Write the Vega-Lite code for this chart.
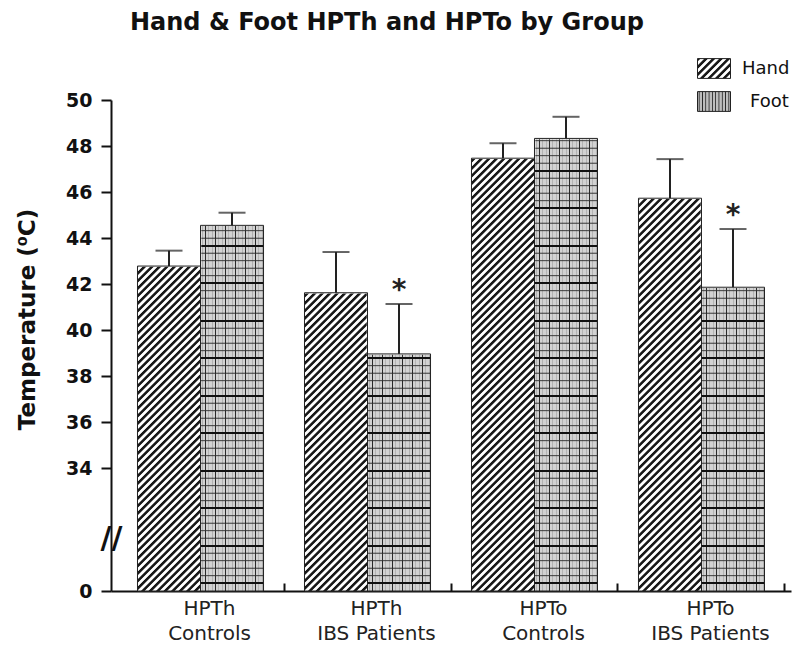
{
"$schema": "https://vega.github.io/schema/vega-lite/v6.json",
"width": 680, "height": 491,
"autosize": {"type": "none"},
"padding": {"left": 111, "top": 100, "right": 9, "bottom": 66},
"background": "white",
"config": {"view": {"stroke": null}},
"title": {"text": "Hand & Foot HPTh and HPTo by Group", "anchor": "start", "frame": "group", "dx": 19, "offset": -2, "font": "DejaVu Sans", "fontSize": 24, "fontWeight": "bold", "color": "#111", "baseline": "alphabetic"},
"data": {"values": [
 {"group": "HPTh|Controls", "part": "Hand", "value": 42.78, "upper": 43.45, "sig": ""},
 {"group": "HPTh|Controls", "part": "Foot", "value": 44.55, "upper": 45.1, "sig": ""},
 {"group": "HPTh|IBS Patients", "part": "Hand", "value": 41.62, "upper": 43.39, "sig": ""},
 {"group": "HPTh|IBS Patients", "part": "Foot", "value": 38.96, "upper": 41.13, "sig": "*"},
 {"group": "HPTo|Controls", "part": "Hand", "value": 47.47, "upper": 48.12, "sig": ""},
 {"group": "HPTo|Controls", "part": "Foot", "value": 48.33, "upper": 49.27, "sig": ""},
 {"group": "HPTo|IBS Patients", "part": "Hand", "value": 45.73, "upper": 47.43, "sig": ""},
 {"group": "HPTo|IBS Patients", "part": "Foot", "value": 41.86, "upper": 44.39, "sig": "*"}
]},
"resolve": {"scale": {"stroke": "independent"}, "legend": {"stroke": "independent"}},
"encoding": {
 "x": {"field": "group", "type": "nominal", "scale": {"paddingInner": 0, "paddingOuter": 0.036},
  "axis": {"title": null, "bandPosition": 1, "tickSize": -8, "tickWidth": 2, "tickColor": "#111", "domainColor": "#111", "domainWidth": 2, "labelExpr": "split(datum.label, '|')", "labelFont": "DejaVu Sans", "labelFontSize": 20, "labelColor": "#222", "labelAngle": 0, "labelOffset": 9, "labelPadding": 15, "labelLineHeight": 25, "labelBaseline": "top"}},
 "xOffset": {"field": "part", "type": "nominal", "sort": ["Hand", "Foot"], "scale": {"paddingInner": 0, "paddingOuter": 0.325}}
},
"layer": [
 {"transform": [{"filter": "datum.part === 'Hand'"}],
  "mark": {"type": "bar", "strokeWidth": 1, "fill": {"gradient": "linear", "x1": 0, "y1": 0, "x2": 1.3369, "y2": 0.8022, "stops": [
{"offset":0,"color":"#181818"},{"offset":0.04,"color":"#181818"},{"offset":0.06,"color":"#fff"},{"offset":0.105,"color":"#fff"},
{"offset":0.125,"color":"#181818"},{"offset":0.165,"color":"#181818"},{"offset":0.185,"color":"#fff"},{"offset":0.23,"color":"#fff"},
{"offset":0.25,"color":"#181818"},{"offset":0.29,"color":"#181818"},{"offset":0.31,"color":"#fff"},{"offset":0.355,"color":"#fff"},
{"offset":0.375,"color":"#181818"},{"offset":0.415,"color":"#181818"},{"offset":0.435,"color":"#fff"},{"offset":0.48,"color":"#fff"},
{"offset":0.5,"color":"#181818"},{"offset":0.54,"color":"#181818"},{"offset":0.56,"color":"#fff"},{"offset":0.605,"color":"#fff"},
{"offset":0.625,"color":"#181818"},{"offset":0.665,"color":"#181818"},{"offset":0.685,"color":"#fff"},{"offset":0.73,"color":"#fff"},
{"offset":0.75,"color":"#181818"},{"offset":0.79,"color":"#181818"},{"offset":0.81,"color":"#fff"},{"offset":0.855,"color":"#fff"},
{"offset":0.875,"color":"#181818"},{"offset":0.915,"color":"#181818"},{"offset":0.935,"color":"#fff"},{"offset":0.98,"color":"#fff"}
  ]}},
  "encoding": {
   "y": {"datum": 0, "type": "quantitative", "scale": {"domain": [0, 32, 50], "range": [491, 414, 0]},
    "axis": {"title": "Temperature (⁰C)", "titleFont": "DejaVu Sans", "titleFontSize": 23, "titleFontWeight": "bold", "titleColor": "#111", "titleX": -84, "titleY": 219, "titleAngle": -90, "titleAlign": "center", "titleBaseline": "middle",
     "values": [0, 22, 34, 36, 38, 40, 42, 44, 46, 48, 50],
     "labelExpr": "datum.value == 22 ? '//' : datum.label",
     "labelFont": "DejaVu Sans", "labelFontWeight": "bold", "labelColor": "#111",
     "labelFontSize": {"condition": {"test": "datum.value == 22", "value": 30}, "value": 19},
     "labelPadding": {"condition": {"test": "datum.value == 22", "value": -10}, "value": 9},
     "labelAlign": {"condition": {"test": "datum.value == 22", "value": "center"}, "value": "right"},
     "tickOpacity": {"condition": {"test": "datum.value == 22", "value": 0}, "value": 1},
     "tickSize": 10, "tickWidth": 2, "tickColor": "#111", "domainColor": "#111", "domainWidth": 2, "grid": false, "labelOverlap": false, "labelFlush": false}},
   "y2": {"datum": 0},
   "stroke": {"field": "part", "type": "nominal", "scale": {"range": ["#222"]},
    "legend": {"orient": "none", "legendX": 586, "legendY": -48.5, "title": null, "padding": 0, "symbolType": "M-1,-0.6H1V0.6H-1Z", "symbolSize": 1089, "symbolStrokeWidth": 1, "symbolStrokeColor": "#222", "labelFont": "DejaVu Sans", "labelFontSize": 18, "labelColor": "#111", "labelOffset": 11}}}},
 {"transform": [{"filter": "datum.part === 'Foot'"}],
  "mark": {"type": "bar", "strokeWidth": 1, "fill": {"gradient": "linear", "x1": 0, "y1": 0, "x2": 1, "y2": 0, "stops": [
{"offset":0.025,"color":"#bdbdbd"},{"offset":0.05,"color":"#222"},{"offset":0.075,"color":"#bdbdbd"},
{"offset":0.125,"color":"#bdbdbd"},{"offset":0.15,"color":"#222"},{"offset":0.175,"color":"#bdbdbd"},
{"offset":0.225,"color":"#bdbdbd"},{"offset":0.25,"color":"#222"},{"offset":0.275,"color":"#bdbdbd"},
{"offset":0.325,"color":"#bdbdbd"},{"offset":0.35,"color":"#222"},{"offset":0.375,"color":"#bdbdbd"},
{"offset":0.425,"color":"#bdbdbd"},{"offset":0.45,"color":"#222"},{"offset":0.475,"color":"#bdbdbd"},
{"offset":0.525,"color":"#bdbdbd"},{"offset":0.55,"color":"#222"},{"offset":0.575,"color":"#bdbdbd"},
{"offset":0.625,"color":"#bdbdbd"},{"offset":0.65,"color":"#222"},{"offset":0.675,"color":"#bdbdbd"},
{"offset":0.725,"color":"#bdbdbd"},{"offset":0.75,"color":"#222"},{"offset":0.775,"color":"#bdbdbd"},
{"offset":0.825,"color":"#bdbdbd"},{"offset":0.85,"color":"#222"},{"offset":0.875,"color":"#bdbdbd"},
{"offset":0.925,"color":"#bdbdbd"},{"offset":0.95,"color":"#222"},{"offset":0.975,"color":"#bdbdbd"}
  ]}},
  "encoding": {
   "y": {"datum": 0, "type": "quantitative"}, "y2": {"datum": 0},
   "stroke": {"field": "part", "type": "nominal", "scale": {"range": ["#222"]},
    "legend": {"orient": "none", "legendX": 586, "legendY": -15.5, "title": null, "padding": 0, "symbolType": "M-1,-0.6H1V0.6H-1Z", "symbolSize": 1089, "symbolStrokeWidth": 1, "symbolStrokeColor": "#222", "labelFont": "DejaVu Sans", "labelFontSize": 18, "labelColor": "#111", "labelOffset": 19}}}},
 {"transform": [{"filter": "datum.part === 'Hand'"}],
  "mark": {"type": "bar", "fill": {"gradient": "linear", "x1": 0, "y1": 0, "x2": 0.15425, "y2": 1.2022, "stops": [
{"offset":0,"color":"#181818"},{"offset":0.004,"color":"#181818"},{"offset":0.006,"color":"#fff"},{"offset":0.0105,"color":"#fff"},
{"offset":0.0125,"color":"#181818"},{"offset":0.0165,"color":"#181818"},{"offset":0.0185,"color":"#fff"},{"offset":0.023,"color":"#fff"},
{"offset":0.025,"color":"#181818"},{"offset":0.029,"color":"#181818"},{"offset":0.031,"color":"#fff"},{"offset":0.0355,"color":"#fff"},
{"offset":0.0375,"color":"#181818"},{"offset":0.0415,"color":"#181818"},{"offset":0.0435,"color":"#fff"},{"offset":0.048,"color":"#fff"},
{"offset":0.05,"color":"#181818"},{"offset":0.054,"color":"#181818"},{"offset":0.056,"color":"#fff"},{"offset":0.0605,"color":"#fff"},
{"offset":0.0625,"color":"#181818"},{"offset":0.0665,"color":"#181818"},{"offset":0.0685,"color":"#fff"},{"offset":0.073,"color":"#fff"},
{"offset":0.075,"color":"#181818"},{"offset":0.079,"color":"#181818"},{"offset":0.081,"color":"#fff"},{"offset":0.0855,"color":"#fff"},
{"offset":0.0875,"color":"#181818"},{"offset":0.0915,"color":"#181818"},{"offset":0.0935,"color":"#fff"},{"offset":0.098,"color":"#fff"},
{"offset":0.1,"color":"#181818"},{"offset":0.104,"color":"#181818"},{"offset":0.106,"color":"#fff"},{"offset":0.1105,"color":"#fff"},
{"offset":0.1125,"color":"#181818"},{"offset":0.1165,"color":"#181818"},{"offset":0.1185,"color":"#fff"},{"offset":0.123,"color":"#fff"},
{"offset":0.125,"color":"#181818"},{"offset":0.129,"color":"#181818"},{"offset":0.131,"color":"#fff"},{"offset":0.1355,"color":"#fff"},
{"offset":0.1375,"color":"#181818"},{"offset":0.1415,"color":"#181818"},{"offset":0.1435,"color":"#fff"},{"offset":0.148,"color":"#fff"},
{"offset":0.15,"color":"#181818"},{"offset":0.154,"color":"#181818"},{"offset":0.156,"color":"#fff"},{"offset":0.1605,"color":"#fff"},
{"offset":0.1625,"color":"#181818"},{"offset":0.1665,"color":"#181818"},{"offset":0.1685,"color":"#fff"},{"offset":0.173,"color":"#fff"},
{"offset":0.175,"color":"#181818"},{"offset":0.179,"color":"#181818"},{"offset":0.181,"color":"#fff"},{"offset":0.1855,"color":"#fff"},
{"offset":0.1875,"color":"#181818"},{"offset":0.1915,"color":"#181818"},{"offset":0.1935,"color":"#fff"},{"offset":0.198,"color":"#fff"},
{"offset":0.2,"color":"#181818"},{"offset":0.204,"color":"#181818"},{"offset":0.206,"color":"#fff"},{"offset":0.2105,"color":"#fff"},
{"offset":0.2125,"color":"#181818"},{"offset":0.2165,"color":"#181818"},{"offset":0.2185,"color":"#fff"},{"offset":0.223,"color":"#fff"},
{"offset":0.225,"color":"#181818"},{"offset":0.229,"color":"#181818"},{"offset":0.231,"color":"#fff"},{"offset":0.2355,"color":"#fff"},
{"offset":0.2375,"color":"#181818"},{"offset":0.2415,"color":"#181818"},{"offset":0.2435,"color":"#fff"},{"offset":0.248,"color":"#fff"},
{"offset":0.25,"color":"#181818"},{"offset":0.254,"color":"#181818"},{"offset":0.256,"color":"#fff"},{"offset":0.2605,"color":"#fff"},
{"offset":0.2625,"color":"#181818"},{"offset":0.2665,"color":"#181818"},{"offset":0.2685,"color":"#fff"},{"offset":0.273,"color":"#fff"},
{"offset":0.275,"color":"#181818"},{"offset":0.279,"color":"#181818"},{"offset":0.281,"color":"#fff"},{"offset":0.2855,"color":"#fff"},
{"offset":0.2875,"color":"#181818"},{"offset":0.2915,"color":"#181818"},{"offset":0.2935,"color":"#fff"},{"offset":0.298,"color":"#fff"},
{"offset":0.3,"color":"#181818"},{"offset":0.304,"color":"#181818"},{"offset":0.306,"color":"#fff"},{"offset":0.3105,"color":"#fff"},
{"offset":0.3125,"color":"#181818"},{"offset":0.3165,"color":"#181818"},{"offset":0.3185,"color":"#fff"},{"offset":0.323,"color":"#fff"},
{"offset":0.325,"color":"#181818"},{"offset":0.329,"color":"#181818"},{"offset":0.331,"color":"#fff"},{"offset":0.3355,"color":"#fff"},
{"offset":0.3375,"color":"#181818"},{"offset":0.3415,"color":"#181818"},{"offset":0.3435,"color":"#fff"},{"offset":0.348,"color":"#fff"},
{"offset":0.35,"color":"#181818"},{"offset":0.354,"color":"#181818"},{"offset":0.356,"color":"#fff"},{"offset":0.3605,"color":"#fff"},
{"offset":0.3625,"color":"#181818"},{"offset":0.3665,"color":"#181818"},{"offset":0.3685,"color":"#fff"},{"offset":0.373,"color":"#fff"},
{"offset":0.375,"color":"#181818"},{"offset":0.379,"color":"#181818"},{"offset":0.381,"color":"#fff"},{"offset":0.3855,"color":"#fff"},
{"offset":0.3875,"color":"#181818"},{"offset":0.3915,"color":"#181818"},{"offset":0.3935,"color":"#fff"},{"offset":0.398,"color":"#fff"},
{"offset":0.4,"color":"#181818"},{"offset":0.404,"color":"#181818"},{"offset":0.406,"color":"#fff"},{"offset":0.4105,"color":"#fff"},
{"offset":0.4125,"color":"#181818"},{"offset":0.4165,"color":"#181818"},{"offset":0.4185,"color":"#fff"},{"offset":0.423,"color":"#fff"},
{"offset":0.425,"color":"#181818"},{"offset":0.429,"color":"#181818"},{"offset":0.431,"color":"#fff"},{"offset":0.4355,"color":"#fff"},
{"offset":0.4375,"color":"#181818"},{"offset":0.4415,"color":"#181818"},{"offset":0.4435,"color":"#fff"},{"offset":0.448,"color":"#fff"},
{"offset":0.45,"color":"#181818"},{"offset":0.454,"color":"#181818"},{"offset":0.456,"color":"#fff"},{"offset":0.4605,"color":"#fff"},
{"offset":0.4625,"color":"#181818"},{"offset":0.4665,"color":"#181818"},{"offset":0.4685,"color":"#fff"},{"offset":0.473,"color":"#fff"},
{"offset":0.475,"color":"#181818"},{"offset":0.479,"color":"#181818"},{"offset":0.481,"color":"#fff"},{"offset":0.4855,"color":"#fff"},
{"offset":0.4875,"color":"#181818"},{"offset":0.4915,"color":"#181818"},{"offset":0.4935,"color":"#fff"},{"offset":0.498,"color":"#fff"},
{"offset":0.5,"color":"#181818"},{"offset":0.504,"color":"#181818"},{"offset":0.506,"color":"#fff"},{"offset":0.5105,"color":"#fff"},
{"offset":0.5125,"color":"#181818"},{"offset":0.5165,"color":"#181818"},{"offset":0.5185,"color":"#fff"},{"offset":0.523,"color":"#fff"},
{"offset":0.525,"color":"#181818"},{"offset":0.529,"color":"#181818"},{"offset":0.531,"color":"#fff"},{"offset":0.5355,"color":"#fff"},
{"offset":0.5375,"color":"#181818"},{"offset":0.5415,"color":"#181818"},{"offset":0.5435,"color":"#fff"},{"offset":0.548,"color":"#fff"},
{"offset":0.55,"color":"#181818"},{"offset":0.554,"color":"#181818"},{"offset":0.556,"color":"#fff"},{"offset":0.5605,"color":"#fff"},
{"offset":0.5625,"color":"#181818"},{"offset":0.5665,"color":"#181818"},{"offset":0.5685,"color":"#fff"},{"offset":0.573,"color":"#fff"},
{"offset":0.575,"color":"#181818"},{"offset":0.579,"color":"#181818"},{"offset":0.581,"color":"#fff"},{"offset":0.5855,"color":"#fff"},
{"offset":0.5875,"color":"#181818"},{"offset":0.5915,"color":"#181818"},{"offset":0.5935,"color":"#fff"},{"offset":0.598,"color":"#fff"},
{"offset":0.6,"color":"#181818"},{"offset":0.604,"color":"#181818"},{"offset":0.606,"color":"#fff"},{"offset":0.6105,"color":"#fff"},
{"offset":0.6125,"color":"#181818"},{"offset":0.6165,"color":"#181818"},{"offset":0.6185,"color":"#fff"},{"offset":0.623,"color":"#fff"},
{"offset":0.625,"color":"#181818"},{"offset":0.629,"color":"#181818"},{"offset":0.631,"color":"#fff"},{"offset":0.6355,"color":"#fff"},
{"offset":0.6375,"color":"#181818"},{"offset":0.6415,"color":"#181818"},{"offset":0.6435,"color":"#fff"},{"offset":0.648,"color":"#fff"},
{"offset":0.65,"color":"#181818"},{"offset":0.654,"color":"#181818"},{"offset":0.656,"color":"#fff"},{"offset":0.6605,"color":"#fff"},
{"offset":0.6625,"color":"#181818"},{"offset":0.6665,"color":"#181818"},{"offset":0.6685,"color":"#fff"},{"offset":0.673,"color":"#fff"},
{"offset":0.675,"color":"#181818"},{"offset":0.679,"color":"#181818"},{"offset":0.681,"color":"#fff"},{"offset":0.6855,"color":"#fff"},
{"offset":0.6875,"color":"#181818"},{"offset":0.6915,"color":"#181818"},{"offset":0.6935,"color":"#fff"},{"offset":0.698,"color":"#fff"},
{"offset":0.7,"color":"#181818"},{"offset":0.704,"color":"#181818"},{"offset":0.706,"color":"#fff"},{"offset":0.7105,"color":"#fff"},
{"offset":0.7125,"color":"#181818"},{"offset":0.7165,"color":"#181818"},{"offset":0.7185,"color":"#fff"},{"offset":0.723,"color":"#fff"},
{"offset":0.725,"color":"#181818"},{"offset":0.729,"color":"#181818"},{"offset":0.731,"color":"#fff"},{"offset":0.7355,"color":"#fff"},
{"offset":0.7375,"color":"#181818"},{"offset":0.7415,"color":"#181818"},{"offset":0.7435,"color":"#fff"},{"offset":0.748,"color":"#fff"},
{"offset":0.75,"color":"#181818"},{"offset":0.754,"color":"#181818"},{"offset":0.756,"color":"#fff"},{"offset":0.7605,"color":"#fff"},
{"offset":0.7625,"color":"#181818"},{"offset":0.7665,"color":"#181818"},{"offset":0.7685,"color":"#fff"},{"offset":0.773,"color":"#fff"},
{"offset":0.775,"color":"#181818"},{"offset":0.779,"color":"#181818"},{"offset":0.781,"color":"#fff"},{"offset":0.7855,"color":"#fff"},
{"offset":0.7875,"color":"#181818"},{"offset":0.7915,"color":"#181818"},{"offset":0.7935,"color":"#fff"},{"offset":0.798,"color":"#fff"},
{"offset":0.8,"color":"#181818"},{"offset":0.804,"color":"#181818"},{"offset":0.806,"color":"#fff"},{"offset":0.8105,"color":"#fff"},
{"offset":0.8125,"color":"#181818"},{"offset":0.8165,"color":"#181818"},{"offset":0.8185,"color":"#fff"},{"offset":0.823,"color":"#fff"},
{"offset":0.825,"color":"#181818"},{"offset":0.829,"color":"#181818"},{"offset":0.831,"color":"#fff"},{"offset":0.8355,"color":"#fff"},
{"offset":0.8375,"color":"#181818"},{"offset":0.8415,"color":"#181818"},{"offset":0.8435,"color":"#fff"},{"offset":0.848,"color":"#fff"},
{"offset":0.85,"color":"#181818"},{"offset":0.854,"color":"#181818"},{"offset":0.856,"color":"#fff"},{"offset":0.8605,"color":"#fff"},
{"offset":0.8625,"color":"#181818"},{"offset":0.8665,"color":"#181818"},{"offset":0.8685,"color":"#fff"},{"offset":0.873,"color":"#fff"},
{"offset":0.875,"color":"#181818"},{"offset":0.879,"color":"#181818"},{"offset":0.881,"color":"#fff"},{"offset":0.8855,"color":"#fff"},
{"offset":0.8875,"color":"#181818"},{"offset":0.8915,"color":"#181818"},{"offset":0.8935,"color":"#fff"},{"offset":0.898,"color":"#fff"},
{"offset":0.9,"color":"#181818"},{"offset":0.904,"color":"#181818"},{"offset":0.906,"color":"#fff"},{"offset":0.9105,"color":"#fff"},
{"offset":0.9125,"color":"#181818"},{"offset":0.9165,"color":"#181818"},{"offset":0.9185,"color":"#fff"},{"offset":0.923,"color":"#fff"},
{"offset":0.925,"color":"#181818"},{"offset":0.929,"color":"#181818"},{"offset":0.931,"color":"#fff"},{"offset":0.9355,"color":"#fff"}
  ]}},
  "encoding": {"y": {"datum": 0, "type": "quantitative"}, "y2": {"datum": 50}}},
 {"transform": [{"filter": "datum.part === 'Foot'"}],
  "mark": {"type": "bar", "fill": {"gradient": "linear", "x1": 0, "y1": 0, "x2": 1.26984, "y2": 0, "stops": [
{"offset":0.0133,"color":"#d2d2d2"},{"offset":0.0208,"color":"#8a8a8a"},{"offset":0.0283,"color":"#d2d2d2"},{"offset":0.0515,"color":"#d2d2d2"},{"offset":0.0595,"color":"#2a2a2a"},{"offset":0.0655,"color":"#2a2a2a"},{"offset":0.0735,"color":"#d2d2d2"},{"offset":0.0967,"color":"#d2d2d2"},{"offset":0.1042,"color":"#8a8a8a"},{"offset":0.1117,"color":"#d2d2d2"},
{"offset":0.1383,"color":"#d2d2d2"},{"offset":0.1458,"color":"#8a8a8a"},{"offset":0.1533,"color":"#d2d2d2"},{"offset":0.1765,"color":"#d2d2d2"},{"offset":0.1845,"color":"#2a2a2a"},{"offset":0.1905,"color":"#2a2a2a"},{"offset":0.1985,"color":"#d2d2d2"},{"offset":0.2217,"color":"#d2d2d2"},{"offset":0.2292,"color":"#8a8a8a"},{"offset":0.2367,"color":"#d2d2d2"},
{"offset":0.2633,"color":"#d2d2d2"},{"offset":0.2708,"color":"#8a8a8a"},{"offset":0.2783,"color":"#d2d2d2"},{"offset":0.3015,"color":"#d2d2d2"},{"offset":0.3095,"color":"#2a2a2a"},{"offset":0.3155,"color":"#2a2a2a"},{"offset":0.3235,"color":"#d2d2d2"},{"offset":0.3467,"color":"#d2d2d2"},{"offset":0.3542,"color":"#8a8a8a"},{"offset":0.3617,"color":"#d2d2d2"},
{"offset":0.3883,"color":"#d2d2d2"},{"offset":0.3958,"color":"#8a8a8a"},{"offset":0.4033,"color":"#d2d2d2"},{"offset":0.4265,"color":"#d2d2d2"},{"offset":0.4345,"color":"#2a2a2a"},{"offset":0.4405,"color":"#2a2a2a"},{"offset":0.4485,"color":"#d2d2d2"},{"offset":0.4717,"color":"#d2d2d2"},{"offset":0.4792,"color":"#8a8a8a"},{"offset":0.4867,"color":"#d2d2d2"},
{"offset":0.5133,"color":"#d2d2d2"},{"offset":0.5208,"color":"#8a8a8a"},{"offset":0.5283,"color":"#d2d2d2"},{"offset":0.5515,"color":"#d2d2d2"},{"offset":0.5595,"color":"#2a2a2a"},{"offset":0.5655,"color":"#2a2a2a"},{"offset":0.5735,"color":"#d2d2d2"},{"offset":0.5967,"color":"#d2d2d2"},{"offset":0.6042,"color":"#8a8a8a"},{"offset":0.6117,"color":"#d2d2d2"},
{"offset":0.6383,"color":"#d2d2d2"},{"offset":0.6458,"color":"#8a8a8a"},{"offset":0.6533,"color":"#d2d2d2"},{"offset":0.6765,"color":"#d2d2d2"},{"offset":0.6845,"color":"#2a2a2a"},{"offset":0.6905,"color":"#2a2a2a"},{"offset":0.6985,"color":"#d2d2d2"},{"offset":0.7217,"color":"#d2d2d2"},{"offset":0.7292,"color":"#8a8a8a"},{"offset":0.7367,"color":"#d2d2d2"},
{"offset":0.7633,"color":"#d2d2d2"},{"offset":0.7708,"color":"#8a8a8a"},{"offset":0.7783,"color":"#d2d2d2"}
  ]}},
  "encoding": {"y": {"datum": 0, "type": "quantitative"}, "y2": {"datum": 50}}},
 {"transform": [{"filter": "datum.part === 'Foot'"}],
  "mark": {"type": "bar", "fill": {"gradient": "linear", "x1": 0, "y1": -0.0112, "x2": 0, "y2": 1.2108, "stops": [
{"offset":0.013,"color":"rgba(0,0,0,0)"},{"offset":0.0145,"color":"#3c3c3c"},{"offset":0.016,"color":"rgba(0,0,0,0)"},{"offset":0.0255,"color":"rgba(0,0,0,0)"},{"offset":0.027,"color":"#3c3c3c"},{"offset":0.0285,"color":"rgba(0,0,0,0)"},{"offset":0.038,"color":"rgba(0,0,0,0)"},{"offset":0.0395,"color":"#3c3c3c"},{"offset":0.041,"color":"rgba(0,0,0,0)"},{"offset":0.0505,"color":"rgba(0,0,0,0)"},{"offset":0.052,"color":"#3c3c3c"},{"offset":0.0535,"color":"rgba(0,0,0,0)"},
{"offset":0.0625,"color":"rgba(0,0,0,0)"},{"offset":0.0625,"color":"#111"},{"offset":0.0665,"color":"#111"},{"offset":0.0665,"color":"rgba(0,0,0,0)"},{"offset":0.0755,"color":"rgba(0,0,0,0)"},{"offset":0.077,"color":"#3c3c3c"},{"offset":0.0785,"color":"rgba(0,0,0,0)"},{"offset":0.088,"color":"rgba(0,0,0,0)"},{"offset":0.0895,"color":"#3c3c3c"},{"offset":0.091,"color":"rgba(0,0,0,0)"},{"offset":0.1005,"color":"rgba(0,0,0,0)"},{"offset":0.102,"color":"#3c3c3c"},{"offset":0.1035,"color":"rgba(0,0,0,0)"},{"offset":0.113,"color":"rgba(0,0,0,0)"},{"offset":0.1145,"color":"#3c3c3c"},{"offset":0.116,"color":"rgba(0,0,0,0)"},
{"offset":0.125,"color":"rgba(0,0,0,0)"},{"offset":0.125,"color":"#111"},{"offset":0.129,"color":"#111"},{"offset":0.129,"color":"rgba(0,0,0,0)"},{"offset":0.138,"color":"rgba(0,0,0,0)"},{"offset":0.1395,"color":"#3c3c3c"},{"offset":0.141,"color":"rgba(0,0,0,0)"},{"offset":0.1505,"color":"rgba(0,0,0,0)"},{"offset":0.152,"color":"#3c3c3c"},{"offset":0.1535,"color":"rgba(0,0,0,0)"},{"offset":0.163,"color":"rgba(0,0,0,0)"},{"offset":0.1645,"color":"#3c3c3c"},{"offset":0.166,"color":"rgba(0,0,0,0)"},{"offset":0.1755,"color":"rgba(0,0,0,0)"},{"offset":0.177,"color":"#3c3c3c"},{"offset":0.1785,"color":"rgba(0,0,0,0)"},
{"offset":0.1875,"color":"rgba(0,0,0,0)"},{"offset":0.1875,"color":"#111"},{"offset":0.1915,"color":"#111"},{"offset":0.1915,"color":"rgba(0,0,0,0)"},{"offset":0.2005,"color":"rgba(0,0,0,0)"},{"offset":0.202,"color":"#3c3c3c"},{"offset":0.2035,"color":"rgba(0,0,0,0)"},{"offset":0.213,"color":"rgba(0,0,0,0)"},{"offset":0.2145,"color":"#3c3c3c"},{"offset":0.216,"color":"rgba(0,0,0,0)"},{"offset":0.2255,"color":"rgba(0,0,0,0)"},{"offset":0.227,"color":"#3c3c3c"},{"offset":0.2285,"color":"rgba(0,0,0,0)"},{"offset":0.238,"color":"rgba(0,0,0,0)"},{"offset":0.2395,"color":"#3c3c3c"},{"offset":0.241,"color":"rgba(0,0,0,0)"},
{"offset":0.25,"color":"rgba(0,0,0,0)"},{"offset":0.25,"color":"#111"},{"offset":0.254,"color":"#111"},{"offset":0.254,"color":"rgba(0,0,0,0)"},{"offset":0.263,"color":"rgba(0,0,0,0)"},{"offset":0.2645,"color":"#3c3c3c"},{"offset":0.266,"color":"rgba(0,0,0,0)"},{"offset":0.2755,"color":"rgba(0,0,0,0)"},{"offset":0.277,"color":"#3c3c3c"},{"offset":0.2785,"color":"rgba(0,0,0,0)"},{"offset":0.288,"color":"rgba(0,0,0,0)"},{"offset":0.2895,"color":"#3c3c3c"},{"offset":0.291,"color":"rgba(0,0,0,0)"},{"offset":0.3005,"color":"rgba(0,0,0,0)"},{"offset":0.302,"color":"#3c3c3c"},{"offset":0.3035,"color":"rgba(0,0,0,0)"},
{"offset":0.3125,"color":"rgba(0,0,0,0)"},{"offset":0.3125,"color":"#111"},{"offset":0.3165,"color":"#111"},{"offset":0.3165,"color":"rgba(0,0,0,0)"},{"offset":0.3255,"color":"rgba(0,0,0,0)"},{"offset":0.327,"color":"#3c3c3c"},{"offset":0.3285,"color":"rgba(0,0,0,0)"},{"offset":0.338,"color":"rgba(0,0,0,0)"},{"offset":0.3395,"color":"#3c3c3c"},{"offset":0.341,"color":"rgba(0,0,0,0)"},{"offset":0.3505,"color":"rgba(0,0,0,0)"},{"offset":0.352,"color":"#3c3c3c"},{"offset":0.3535,"color":"rgba(0,0,0,0)"},{"offset":0.363,"color":"rgba(0,0,0,0)"},{"offset":0.3645,"color":"#3c3c3c"},{"offset":0.366,"color":"rgba(0,0,0,0)"},
{"offset":0.375,"color":"rgba(0,0,0,0)"},{"offset":0.375,"color":"#111"},{"offset":0.379,"color":"#111"},{"offset":0.379,"color":"rgba(0,0,0,0)"},{"offset":0.388,"color":"rgba(0,0,0,0)"},{"offset":0.3895,"color":"#3c3c3c"},{"offset":0.391,"color":"rgba(0,0,0,0)"},{"offset":0.4005,"color":"rgba(0,0,0,0)"},{"offset":0.402,"color":"#3c3c3c"},{"offset":0.4035,"color":"rgba(0,0,0,0)"},{"offset":0.413,"color":"rgba(0,0,0,0)"},{"offset":0.4145,"color":"#3c3c3c"},{"offset":0.416,"color":"rgba(0,0,0,0)"},{"offset":0.4255,"color":"rgba(0,0,0,0)"},{"offset":0.427,"color":"#3c3c3c"},{"offset":0.4285,"color":"rgba(0,0,0,0)"},
{"offset":0.4375,"color":"rgba(0,0,0,0)"},{"offset":0.4375,"color":"#111"},{"offset":0.4415,"color":"#111"},{"offset":0.4415,"color":"rgba(0,0,0,0)"},{"offset":0.4505,"color":"rgba(0,0,0,0)"},{"offset":0.452,"color":"#3c3c3c"},{"offset":0.4535,"color":"rgba(0,0,0,0)"},{"offset":0.463,"color":"rgba(0,0,0,0)"},{"offset":0.4645,"color":"#3c3c3c"},{"offset":0.466,"color":"rgba(0,0,0,0)"},{"offset":0.4755,"color":"rgba(0,0,0,0)"},{"offset":0.477,"color":"#3c3c3c"},{"offset":0.4785,"color":"rgba(0,0,0,0)"},{"offset":0.488,"color":"rgba(0,0,0,0)"},{"offset":0.4895,"color":"#3c3c3c"},{"offset":0.491,"color":"rgba(0,0,0,0)"},
{"offset":0.5,"color":"rgba(0,0,0,0)"},{"offset":0.5,"color":"#111"},{"offset":0.504,"color":"#111"},{"offset":0.504,"color":"rgba(0,0,0,0)"},{"offset":0.513,"color":"rgba(0,0,0,0)"},{"offset":0.5145,"color":"#3c3c3c"},{"offset":0.516,"color":"rgba(0,0,0,0)"},{"offset":0.5255,"color":"rgba(0,0,0,0)"},{"offset":0.527,"color":"#3c3c3c"},{"offset":0.5285,"color":"rgba(0,0,0,0)"},{"offset":0.538,"color":"rgba(0,0,0,0)"},{"offset":0.5395,"color":"#3c3c3c"},{"offset":0.541,"color":"rgba(0,0,0,0)"},{"offset":0.5505,"color":"rgba(0,0,0,0)"},{"offset":0.552,"color":"#3c3c3c"},{"offset":0.5535,"color":"rgba(0,0,0,0)"},
{"offset":0.5625,"color":"rgba(0,0,0,0)"},{"offset":0.5625,"color":"#111"},{"offset":0.5665,"color":"#111"},{"offset":0.5665,"color":"rgba(0,0,0,0)"},{"offset":0.5755,"color":"rgba(0,0,0,0)"},{"offset":0.577,"color":"#3c3c3c"},{"offset":0.5785,"color":"rgba(0,0,0,0)"},{"offset":0.588,"color":"rgba(0,0,0,0)"},{"offset":0.5895,"color":"#3c3c3c"},{"offset":0.591,"color":"rgba(0,0,0,0)"},{"offset":0.6005,"color":"rgba(0,0,0,0)"},{"offset":0.602,"color":"#3c3c3c"},{"offset":0.6035,"color":"rgba(0,0,0,0)"},{"offset":0.613,"color":"rgba(0,0,0,0)"},{"offset":0.6145,"color":"#3c3c3c"},{"offset":0.616,"color":"rgba(0,0,0,0)"},
{"offset":0.625,"color":"rgba(0,0,0,0)"},{"offset":0.625,"color":"#111"},{"offset":0.629,"color":"#111"},{"offset":0.629,"color":"rgba(0,0,0,0)"},{"offset":0.638,"color":"rgba(0,0,0,0)"},{"offset":0.6395,"color":"#3c3c3c"},{"offset":0.641,"color":"rgba(0,0,0,0)"},{"offset":0.6505,"color":"rgba(0,0,0,0)"},{"offset":0.652,"color":"#3c3c3c"},{"offset":0.6535,"color":"rgba(0,0,0,0)"},{"offset":0.663,"color":"rgba(0,0,0,0)"},{"offset":0.6645,"color":"#3c3c3c"},{"offset":0.666,"color":"rgba(0,0,0,0)"},{"offset":0.6755,"color":"rgba(0,0,0,0)"},{"offset":0.677,"color":"#3c3c3c"},{"offset":0.6785,"color":"rgba(0,0,0,0)"},
{"offset":0.6875,"color":"rgba(0,0,0,0)"},{"offset":0.6875,"color":"#111"},{"offset":0.6915,"color":"#111"},{"offset":0.6915,"color":"rgba(0,0,0,0)"},{"offset":0.7005,"color":"rgba(0,0,0,0)"},{"offset":0.702,"color":"#3c3c3c"},{"offset":0.7035,"color":"rgba(0,0,0,0)"},{"offset":0.713,"color":"rgba(0,0,0,0)"},{"offset":0.7145,"color":"#3c3c3c"},{"offset":0.716,"color":"rgba(0,0,0,0)"},{"offset":0.7255,"color":"rgba(0,0,0,0)"},{"offset":0.727,"color":"#3c3c3c"},{"offset":0.7285,"color":"rgba(0,0,0,0)"},{"offset":0.738,"color":"rgba(0,0,0,0)"},{"offset":0.7395,"color":"#3c3c3c"},{"offset":0.741,"color":"rgba(0,0,0,0)"},
{"offset":0.75,"color":"rgba(0,0,0,0)"},{"offset":0.75,"color":"#111"},{"offset":0.754,"color":"#111"},{"offset":0.754,"color":"rgba(0,0,0,0)"},{"offset":0.763,"color":"rgba(0,0,0,0)"},{"offset":0.7645,"color":"#3c3c3c"},{"offset":0.766,"color":"rgba(0,0,0,0)"},{"offset":0.7755,"color":"rgba(0,0,0,0)"},{"offset":0.777,"color":"#3c3c3c"},{"offset":0.7785,"color":"rgba(0,0,0,0)"},{"offset":0.788,"color":"rgba(0,0,0,0)"},{"offset":0.7895,"color":"#3c3c3c"},{"offset":0.791,"color":"rgba(0,0,0,0)"},{"offset":0.8005,"color":"rgba(0,0,0,0)"},{"offset":0.802,"color":"#3c3c3c"},{"offset":0.8035,"color":"rgba(0,0,0,0)"},
{"offset":0.8125,"color":"rgba(0,0,0,0)"},{"offset":0.8125,"color":"#111"},{"offset":0.8165,"color":"#111"},{"offset":0.8165,"color":"rgba(0,0,0,0)"}
  ]}},
  "encoding": {"y": {"datum": 0, "type": "quantitative"}, "y2": {"datum": 50}}},
 {"mark": {"type": "bar", "fill": "white", "stroke": "white", "strokeWidth": 1.5},
  "encoding": {"y": {"field": "value", "type": "quantitative"}, "y2": {"datum": 50}}},
 {"mark": {"type": "bar", "filled": false, "stroke": "#222", "strokeWidth": 1},
  "encoding": {"y": {"field": "value", "type": "quantitative"}, "y2": {"datum": 0}}},
 {"mark": {"type": "rule", "strokeWidth": 2, "color": "#222"},
  "encoding": {"y": {"field": "value", "type": "quantitative"}, "y2": {"field": "upper"}}},
 {"mark": {"type": "tick", "orient": "horizontal", "size": 27, "thickness": 2, "color": "#222"},
  "encoding": {"y": {"field": "upper", "type": "quantitative"}}},
 {"mark": {"type": "text", "font": "DejaVu Sans", "fontSize": 28, "fontWeight": "bold", "dy": -5, "baseline": "alphabetic", "color": "#222"},
  "encoding": {"y": {"field": "upper", "type": "quantitative"}, "text": {"field": "sig"}}}
]
}
